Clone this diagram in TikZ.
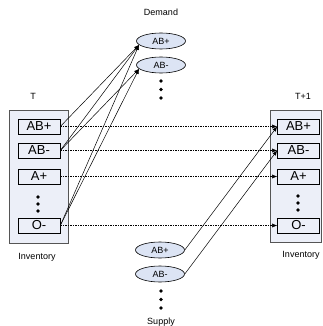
\documentclass[tikz,border=0pt]{standalone}
\usepackage{fontspec}
\setmainfont{Liberation Sans}
\usetikzlibrary{arrows.meta,shapes.geometric}
\definecolor{panel}{HTML}{ECEFF8}
\definecolor{bubble}{HTML}{DCE4F4}
\definecolor{rim}{HTML}{555555}
\tikzset{
  panelbox/.style={draw=rim,fill=panel,line width=0.6pt},
  stockbox/.style={draw=black,fill=panel,line width=0.6pt,minimum width=42pt,minimum height=15pt,inner sep=0pt,font=\fontsize{13}{13}\selectfont},
  bloodtype/.style={ellipse,draw=black,fill=bubble,line width=0.6pt,minimum width=49pt,minimum height=16pt,inner sep=0pt,font=\fontsize{9}{9}\selectfont},
  caption/.style={font=\fontsize{9}{9}\selectfont,inner sep=0pt},
  dotmark/.style={circle,fill=black,inner sep=0pt,minimum size=3.6pt},
  flow/.style={line width=0.5pt,-{Latex[length=5pt,width=4pt]}},
  carry/.style={line width=0.5pt,dash pattern=on 1.5pt off 1pt,-{Latex[length=5pt,width=4pt]}}
}
\begin{document}
\begin{tikzpicture}[x=1pt,y=-1pt]
\useasboundingbox (0,0) rectangle (322,326);

% inventory panels
\draw[panelbox] (9,110) rectangle (68,243);
\draw[panelbox] (270,110) rectangle (321,242);

% stock at period T
\node[stockbox] (lABp) at (39,126.5) {AB+};
\node[stockbox] (lABm) at (39,150.5) {AB-};
\node[stockbox] (lAp)  at (39,176.5) {A+};
\node[stockbox] (lOm)  at (39,225.5) {O-};
\node[dotmark] (ld1) at (38,197) {};
\node[dotmark] (ld2) at (38,204) {};
\node[dotmark] (ld3) at (38,211) {};

% stock at period T+1
\node[stockbox] (rABp) at (298.5,126.5) {AB+};
\node[stockbox] (rABm) at (298.5,150.5) {AB-};
\node[stockbox] (rAp)  at (298.5,176.5) {A+};
\node[stockbox] (rOm)  at (298.5,225.5) {O-};
\node[dotmark] (rd1) at (298,196) {};
\node[dotmark] (rd2) at (298,203) {};
\node[dotmark] (rd3) at (298,210) {};

% demand
\node[bloodtype] (dABp) at (161,41) {AB+};
\node[bloodtype] (dABm) at (161,65) {AB-};
\node[dotmark] (dd1) at (161,81) {};
\node[dotmark] (dd2) at (161,89.5) {};
\node[dotmark] (dd3) at (161,98) {};

% supply
\node[bloodtype] (sABp) at (160,250) {AB+};
\node[bloodtype] (sABm) at (160,274) {AB-};
\node[dotmark] (sd1) at (161,291) {};
\node[dotmark] (sd2) at (161,299.5) {};
\node[dotmark] (sd3) at (161,308) {};

% captions
\node[caption] (capD)  at (161,12)  {Demand};
\node[caption] (capS)  at (161,322) {Supply};
\node[caption] (capT)  at (33,96)   {T};
\node[caption] (capT1) at (303,96)  {T+1};
\node[caption] (capIl) at (37,257)  {Inventory};
\node[caption] (capIr) at (301,255) {Inventory};

% issuing to demand
\draw[flow] (lABp.east) -- (dABp.190);
\draw[flow] (lABm.east) -- (dABp.190);
\draw[flow] (lABm.east) -- (dABm.190);
\draw[flow] (lOm.east)  -- (dABp.190);
\draw[flow] (lOm.east)  -- (dABm.190);

% carried-over stock
\draw[carry] (lABp.east) -- (rABp.west);
\draw[carry] (lABm.east) -- (rABm.west);
\draw[carry] (lAp.east)  -- (rAp.west);
\draw[carry] (lOm.east)  -- (rOm.west);

% incoming supply
\draw[flow] (sABp.east) -- (rABp.west);
\draw[flow] (sABm.east) -- (rABm.west);
\end{tikzpicture}
\end{document}
